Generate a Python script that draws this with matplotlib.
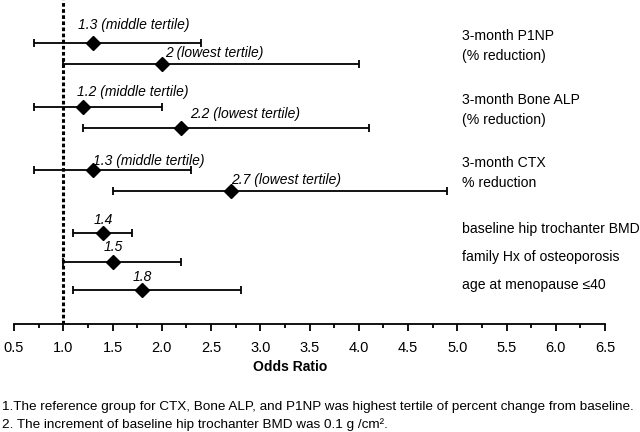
import matplotlib.pyplot as plt
import numpy as np

# odds ratios with 95% CI, top to bottom
annot = ["1.3 (middle tertile)", "2 (lowest tertile)",
         "1.2 (middle tertile)", "2.2 (lowest tertile)",
         "1.3 (middle tertile)", "2.7 (lowest tertile)",
         "1.4", "1.5", "1.8"]
odds = [1.3, 2.0, 1.2, 2.2, 1.3, 2.7, 1.4, 1.5, 1.8]
ci_low = [0.7, 1.0, 0.7, 1.2, 0.7, 1.5, 1.1, 1.0, 1.1]
ci_high = [2.4, 4.0, 2.0, 4.1, 2.3, 4.9, 1.7, 2.2, 2.8]

group_labels = ["3-month P1NP\n(% reduction)",
                "3-month Bone ALP\n(% reduction)",
                "3-month CTX\n% reduction",
                "baseline hip trochanter BMD",
                "family Hx of osteoporosis",
                "age at menopause \u226440"]

xticks = [0.5, 1.0, 1.5, 2.0, 2.5, 3.0, 3.5, 4.0, 4.5, 5.0, 5.5, 6.0, 6.5]

notes = ["1.The reference group for CTX, Bone ALP, and P1NP was highest tertile of percent change from baseline.",
         "2. The increment of baseline hip trochanter BMD was 0.1 g /cm\u00b2."]

# layout (vertical positions in pixel-like units, top = 0)
row_y = [43, 64, 107, 128, 170, 191, 233, 262, 290]
label_dx = [-15, 3, -6, 9, 0, 0, 1, 1, 0]      # text offset in px
label_dy = [18, 11, 15, 14, 9, 11, 13, 15, 13]
group_y = [46, 110, 173, 229, 257, 285]

plt.rcParams['font.family'] = ['Liberation Sans', 'DejaVu Sans']

fig = plt.figure(figsize=(6.4, 4.32), dpi=100)
ax = fig.add_axes([14 / 640, 1 - 324 / 432, (605 - 14) / 640, 324 / 432])

odds = np.array(odds)
err = np.array([odds - np.array(ci_low), np.array(ci_high) - odds])
ax.errorbar(odds, row_y, xerr=err, fmt='D', color='black', ms=7,
            elinewidth=1.3, capsize=3.2, capthick=1.3, zorder=3)

ax.axvline(1.0, color='black', lw=2.2, linestyle=(0, (1.2, 0.8)), zorder=2)

px = (6.5 - 0.5) / (605 - 14)   # data units per pixel in x
for i, txt in enumerate(annot):
    ha = 'left' if 'tertile' in txt else 'center'
    ax.text(odds[i] + label_dx[i] * px, row_y[i] - label_dy[i], txt,
            ha=ha, va='center', fontsize=10, style='italic')

for lab, y in zip(group_labels, group_y):
    ax.text(0.5 + (462 - 14) * px, y, lab, ha='left', va='center',
            fontsize=10.1, linespacing=1.5)

ax.set_xlim(0.5, 6.5)
ax.set_ylim(324, 0)
ax.set_xticks(xticks)
ax.set_xticklabels([f"{t:.1f}" for t in xticks], fontsize=10.5)
ax.set_xticks(np.arange(0.75, 6.5, 0.5), minor=True)
ax.tick_params(axis='x', which='major', length=5, width=1.3, pad=7)
ax.tick_params(axis='x', which='minor', length=3, width=1.3)
ax.set_yticks([])
for s in ['left', 'right', 'top']:
    ax.spines[s].set_visible(False)
ax.spines['bottom'].set_linewidth(1.3)
ax.set_xlabel('Odds Ratio', fontsize=10, fontweight='bold')
ax.xaxis.set_label_coords((290 - 14) / (605 - 14), -(367 - 324) / 324)
ax.xaxis.label.set_va('center')

fig.text(2 / 640, 1 - 407 / 432, notes[0], fontsize=9.7, va='center', ha='left')
fig.text(2 / 640, 1 - 425 / 432, notes[1], fontsize=9.7, va='center', ha='left')

fig.savefig('out.png', dpi=100)
